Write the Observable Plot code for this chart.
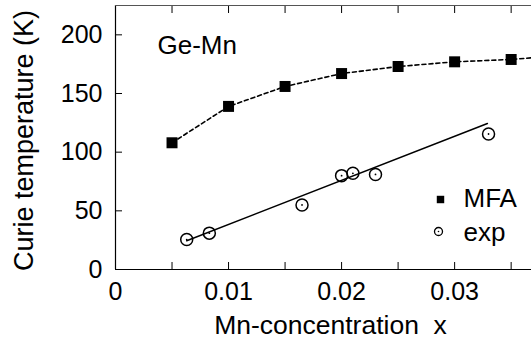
<!DOCTYPE html>
<html><head><meta charset="utf-8">
<script src="https://cdn.jsdelivr.net/npm/d3@7"></script>
<script src="https://cdn.jsdelivr.net/npm/@observablehq/plot@0.6"></script>
<style>html,body{margin:0;padding:0;background:#fff}</style>
</head><body><div id="chart"></div>
<script>
// MFA (mean-field approximation) results
const mfaX = [0.005, 0.010, 0.015, 0.020, 0.025, 0.030, 0.035];
const mfaY = [108, 139, 156, 167, 173, 177, 179];
// continuation of the dashed curve beyond the visible right edge
const mfaTailX = [0.0375];
const mfaTailY = [181];
// experimental points
const expX = [0.0063, 0.0083, 0.0165, 0.0200, 0.0210, 0.0230, 0.0330];
const expY = [25.5, 31, 55, 80, 82, 81, 115.5];
// linear fit through experiment
const fitX = [0.0063, 0.0329];
const fitY = [24.5, 124.4];
// ticks
const xLabelTicks = [0, 0.01, 0.02, 0.03];
const xTicks = [0, 0.005, 0.01, 0.015, 0.02, 0.025, 0.03, 0.035];
const yTicks = [0, 50, 100, 150, 200];
const xDomain = [0, 0.0368];
const yDomain = [0, 225];
const legendLabels = ["MFA", "exp"];
const panelLabel = "Ge-Mn";
const xTitle = "Mn-concentration  x";
const yTitle = "Curie temperature (K)";

const mfa = mfaX.map((x, i) => ({x, y: mfaY[i]}));
const mfaLine = mfa.concat(mfaTailX.map((x, i) => ({x, y: mfaTailY[i]})));
const exp = expX.map((x, i) => ({x, y: expY[i]}));
const fit = fitX.map((x, i) => ({x, y: fitY[i]}));

const fmtX = d => d === 0 ? "0" : d3.format(".2f")(d);

const chart = Plot.plot({
  width: 531, height: 343,
  marginLeft: 115, marginRight: 0, marginTop: 5, marginBottom: 74,
  style: {fontFamily: "'Liberation Sans', Arial, sans-serif", fontSize: "25px", color: "#000", background: "#fff", overflow: "visible"},
  x: {domain: xDomain},
  y: {domain: yDomain},
  marks: [
    // frame lines (left, bottom, top)
    Plot.ruleX([xDomain[0]], {stroke: "#000", strokeWidth: 1.2}),
    Plot.ruleY([yDomain[0]], {stroke: "#000", strokeWidth: 1.2}),
    Plot.ruleY([yDomain[1]], {stroke: "#555", strokeWidth: 1.2}),
    // inward ticks
    Plot.axisX(xTicks, {anchor: "bottom", tickSize: -7, tickFormat: () => "", label: null, stroke: "#000"}),
    Plot.axisX(xTicks, {anchor: "top", tickSize: -7, tickFormat: () => "", label: null, stroke: "#000"}),
    Plot.axisY(yTicks, {anchor: "left", tickSize: -7, tickFormat: () => "", label: null, stroke: "#000"}),
    // tick labels
    Plot.axisX(xLabelTicks, {anchor: "bottom", tickSize: 0, tickPadding: 13, tickFormat: fmtX, label: null, fill: "#000", fontSize: 25}),
    Plot.axisY(yTicks, {anchor: "left", tickSize: 0, tickPadding: 13, label: null, fill: "#000", fontSize: 25}),
    // axis titles
    Plot.text([xTitle], {frameAnchor: "bottom", textAnchor: "middle", lineAnchor: "middle", dx: 7, dy: 56, fill: "#000", fontSize: 26.5}),
    Plot.text([yTitle], {frameAnchor: "left", textAnchor: "middle", lineAnchor: "middle", rotate: -90, dx: -91, dy: 3, fill: "#000", fontSize: 27}),
    // data
    Plot.line(mfaLine, {x: "x", y: "y", stroke: "#000", strokeWidth: 1.6, strokeDasharray: "4,3", clip: true}),
    Plot.line(fit, {x: "x", y: "y", stroke: "#000", strokeWidth: 1.5}),
    Plot.dot(mfa, {x: "x", y: "y", symbol: "square", r: 6.2, fill: "#000", stroke: "none"}),
    Plot.dot(exp, {x: "x", y: "y", r: 6, fill: "none", stroke: "#000", strokeWidth: 1.5}),
    Plot.dot(exp, {x: "x", y: "y", r: 0.9, fill: "#000", stroke: "none"}),
    // panel label
    Plot.text([panelLabel], {frameAnchor: "top-left", textAnchor: "start", lineAnchor: "middle", dx: 42, dy: 40, fill: "#000", fontSize: 26}),
    // legend
    Plot.dot([legendLabels[0]], {x: null, y: null, frameAnchor: "top-right", dx: -91, dy: 194, symbol: "square", r: 4.2, fill: "#000", stroke: "none"}),
    Plot.text([legendLabels[0]], {frameAnchor: "top-right", textAnchor: "start", lineAnchor: "middle", dx: -68, dy: 193, fill: "#000", fontSize: 26}),
    Plot.dot([legendLabels[1]], {x: null, y: null, frameAnchor: "top-right", dx: -93, dy: 226, r: 4, fill: "none", stroke: "#000", strokeWidth: 1.3}),
    Plot.dot([legendLabels[1]], {x: null, y: null, frameAnchor: "top-right", dx: -93, dy: 226, r: 0.8, fill: "#000", stroke: "none"}),
    Plot.text([legendLabels[1]], {frameAnchor: "top-right", textAnchor: "start", lineAnchor: "middle", dx: -68, dy: 227, fill: "#000", fontSize: 26})
  ]
});
document.getElementById("chart").appendChild(chart);
</script>
</body></html>
